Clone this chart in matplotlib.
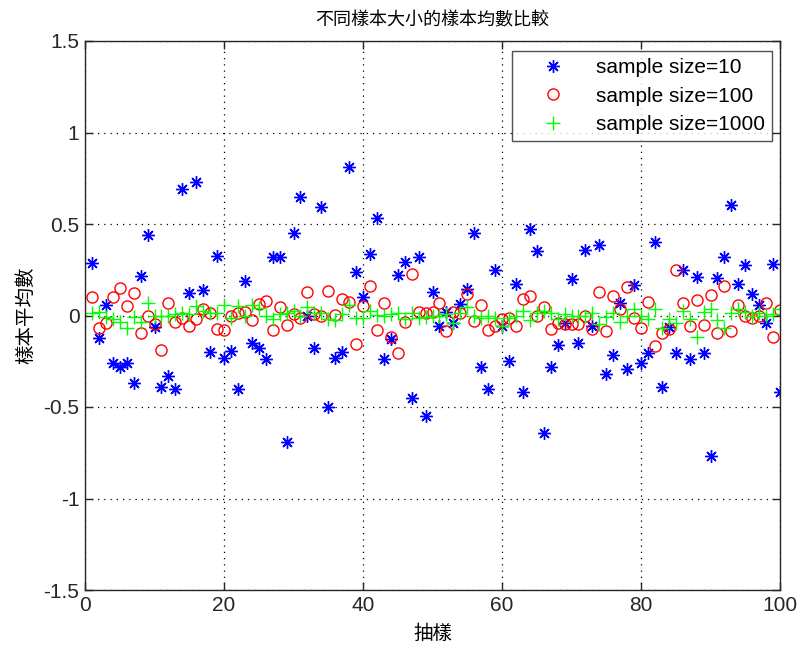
import numpy as np
import matplotlib
matplotlib.use("Agg")
import matplotlib.pyplot as plt

plt.rcParams['font.family'] = ['Liberation Sans', 'Noto Sans CJK TC', 'DejaVu Sans']

x = list(range(1, 101))

means_10 = [0.287, -0.125, 0.06, -0.26, -0.28, -0.26, -0.37, 0.216, 0.44, -0.064,
            -0.39, -0.33, -0.40, 0.69, 0.125, 0.727, 0.14, -0.20, 0.324, -0.23,
            -0.196, -0.40, 0.19, -0.15, -0.18, -0.24, 0.32, 0.32, -0.69, 0.45,
            0.645, 0.0, -0.18, 0.595, -0.50, -0.23, -0.20, 0.81, 0.24, 0.10,
            0.335, 0.535, -0.24, -0.13, 0.22, 0.29, -0.45, 0.32, -0.55, 0.13,
            -0.06, 0.02, -0.04, 0.065, 0.147, 0.45, -0.28, -0.40, 0.25, -0.055,
            -0.25, 0.17, -0.42, 0.47, 0.35, -0.64, -0.28, -0.16, -0.04, 0.20,
            -0.15, 0.36, -0.06, 0.385, -0.317, -0.216, 0.07, -0.29, 0.165, -0.26,
            -0.205, 0.40, -0.39, -0.064, -0.205, 0.247, -0.235, 0.21, -0.205, -0.77,
            0.205, 0.317, 0.604, 0.17, 0.275, 0.12, 0.055, -0.04, 0.28, -0.416]

means_100 = [0.10, -0.07, -0.04, 0.10, 0.148, 0.053, 0.123, -0.097, 0.0, -0.048,
             -0.19, 0.068, -0.038, -0.011, -0.057, -0.02, 0.035, 0.016, -0.075, -0.08,
             0.0, 0.013, 0.02, -0.024, 0.062, 0.08, -0.079, 0.048, -0.051, 0.007,
             -0.011, 0.13, 0.007, -0.002, 0.136, 0.002, 0.09, 0.075, -0.158, 0.05,
             0.16, -0.079, 0.068, -0.115, -0.203, -0.035, 0.227, 0.02, 0.016, 0.02,
             0.068, -0.084, 0.02, 0.016, 0.117, -0.029, 0.057, -0.079, -0.06, -0.02,
             -0.011, -0.057, 0.09, 0.108, 0.0, 0.049, -0.075, -0.04, -0.048, -0.048,
             -0.048, -0.002, -0.075, 0.13, -0.084, 0.108, 0.035, 0.154, -0.011, -0.066,
             0.075, -0.167, -0.097, -0.075, 0.25, 0.068, -0.057, 0.086, -0.053, 0.11,
             -0.097, 0.16, -0.084, 0.057, -0.002, -0.016, 0.0, 0.068, -0.115, 0.031]

means_1000 = [0.015, 0.02, -0.01, -0.02, -0.035, -0.07, -0.01, -0.035, 0.07, 0.0,
              0.0, 0.0, 0.007, 0.016, 0.007, 0.053, 0.026, 0.016, 0.016, 0.057,
              -0.011, 0.053, 0.0, 0.057, 0.04, 0.0, -0.02, 0.01, 0.015, 0.026,
              0.0, 0.045, 0.016, 0.016, -0.02, -0.024, 0.007, 0.06, -0.011, -0.011,
              0.026, 0.005, 0.0, 0.007, 0.016, -0.02, 0.016, -0.011, -0.01, 0.0,
              0.0, 0.007, -0.04, 0.016, 0.044, 0.0, -0.011, 0.0, -0.011, -0.06,
              -0.011, 0.0, 0.026, -0.024, 0.016, 0.026, 0.016, -0.02, 0.007, -0.005,
              0.0, 0.0, 0.016, -0.044, -0.01, 0.016, -0.035, 0.0, 0.035, 0.0,
              -0.02, 0.035, -0.066, -0.02, -0.04, 0.026, -0.02, -0.115, 0.02, 0.035,
              -0.024, -0.066, 0.016, 0.035, 0.02, 0.0, 0.016, 0.0, 0.007, 0.035]

labels = ['sample size=10', 'sample size=100', 'sample size=1000']
title = '不同樣本大小的樣本均數比較'
xlabel = '抽樣'
ylabel = '樣本平均數'
xticks = [0, 20, 40, 60, 80, 100]
yticks = [-1.5, -1, -0.5, 0, 0.5, 1, 1.5]
ytick_labels = ['-1.5', '-1', '-0.5', '0', '0.5', '1', '1.5']

fig = plt.figure(figsize=(8.0, 6.51), dpi=100)
ax = fig.add_axes([85/800, 61/651, 695/800, 549/651])

ax.plot(x, means_10, linestyle='none', marker=(8, 2, 0), color='#0000ff',
        markersize=9, markeredgewidth=1.0, label=labels[0])
ax.plot(x, means_100, linestyle='none', marker='o', color='#ff0000',
        markerfacecolor='none', markersize=8, markeredgewidth=1.0, label=labels[1])
ax.plot(x, means_1000, linestyle='none', marker='+', color='#00ff00',
        markersize=10, markeredgewidth=1.0, label=labels[2])

ax.set_xlim(0, 100)
ax.set_ylim(-1.5, 1.5)
ax.set_xticks(xticks)
ax.set_yticks(yticks)
ax.set_yticklabels(ytick_labels)
ax.tick_params(direction='in', top=True, right=True, labelsize=15, length=6,
               width=1, pad=4, colors='#262626')
ax.grid(True, linestyle=(0, (1, 4)), color='black', linewidth=0.9)
for s in ax.spines.values():
    s.set_color('#262626')
    s.set_linewidth(1.0)

cjk = ['Noto Sans CJK TC', 'DejaVu Sans']
ax.set_title(title, fontsize=13, family=cjk, pad=11)
ax.set_xlabel(xlabel, fontsize=14, family=cjk, labelpad=6)
ax.set_ylabel(ylabel, fontsize=14, family=cjk, labelpad=5)

leg = ax.legend(loc='upper right', bbox_to_anchor=(0.9885, 0.982), fontsize=15,
                frameon=True, fancybox=False, edgecolor='#262626',
                borderpad=0.35, handlelength=3.2, handletextpad=0.45,
                labelspacing=0.45, borderaxespad=0.0)
leg.get_frame().set_linewidth(1.0)

fig.savefig('out.png', dpi=100, facecolor='white')
